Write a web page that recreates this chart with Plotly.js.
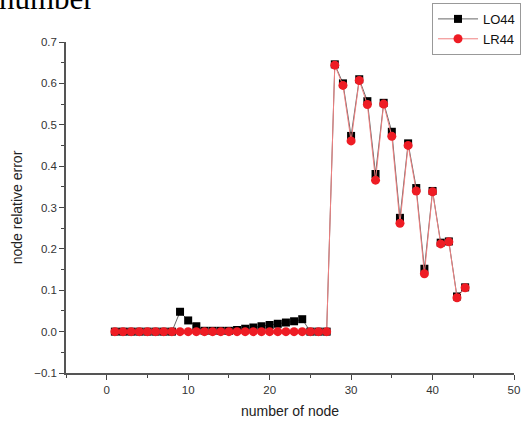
<!DOCTYPE html>
<html>
<head>
<meta charset="utf-8">
<script src="https://cdn.plot.ly/plotly-3.0.1.min.js"></script>
<style>html,body{margin:0;padding:0;background:#fff;}#chart{width:521px;height:429px;}</style>
</head>
<body>
<div id="chart"></div>
<script>
var nodes = [];
for (var i = 1; i <= 44; i++) nodes.push(i);

var lo44 = [0,0,0,0,0,0,0,0,0.048,0.027,0.013,0.002,0.002,0.002,0.002,0.004,0.007,0.010,0.013,0.016,0.019,0.022,0.025,0.030,0,0,0,
  0.646,0.600,0.473,0.610,0.557,0.381,0.553,0.483,0.275,0.455,0.347,0.152,0.340,0.215,0.218,0.085,0.107];
var lr44 = [0,0,0,0,0,0,0,0,0,0,0,0,0,0,0,0,0,0,0,0,0,0,0,0,0,0,0,
  0.644,0.595,0.461,0.607,0.549,0.366,0.550,0.472,0.262,0.450,0.340,0.140,0.338,0.212,0.217,0.082,0.106];

var seriesNames = ['LO44', 'LR44'];
var xTicks = [0, 10, 20, 30, 40, 50];
var titleFragment = 'number';
var xTitle = 'number of node';
var yTitle = 'node relative error';

var traces = [
  {x: nodes, y: lo44, name: seriesNames[0], mode: 'lines+markers', type: 'scatter',
   line: {color: '#666666', width: 1},
   marker: {symbol: 'square', size: 8, color: '#000000'}},
  {x: nodes, y: lr44, name: seriesNames[1], mode: 'lines+markers', type: 'scatter',
   line: {color: '#f08080', width: 1},
   marker: {symbol: 'circle', size: 9, color: '#ee1c24'}}
];

var axisFont = {family: 'Liberation Sans, Arial, sans-serif', size: 11.5, color: '#333'};
var titleFont = {family: 'Liberation Sans, Arial, sans-serif', size: 14, color: '#222'};
var layout = {
  width: 521, height: 429,
  margin: {l: 66, r: 7, t: 42, b: 56, autoexpand: false},
  paper_bgcolor: '#fff', plot_bgcolor: '#fff',
  showlegend: true,
  legend: {x: 0.817, y: 1.118, xanchor: 'left', yanchor: 'top',
    bordercolor: '#999', borderwidth: 1, bgcolor: '#fff',
    font: {family: 'Liberation Sans, Arial, sans-serif', size: 13, color: '#111'},
    tracegroupgap: 0, itemwidth: 40},
  xaxis: {range: [-5, 50], tickvals: xTicks, ticks: 'outside', ticklen: 5, tickwidth: 1,
    tickcolor: '#444', showline: true, linecolor: '#555', linewidth: 1.5, automargin: false,
    showgrid: false, zeroline: false, tickfont: axisFont,
    minor: {tickvals: [-5, 5, 15, 25, 35, 45], ticks: 'outside', ticklen: 3, tickcolor: '#444'},
    title: {text: xTitle, font: titleFont, standoff: 12}},
  yaxis: {range: [-0.1, 0.7], dtick: 0.1, tick0: 0, tickformat: '.1f', ticks: 'outside', ticklen: 5,
    tickwidth: 1, tickcolor: '#444', showline: true, linecolor: '#555', linewidth: 1.5, automargin: false,
    showgrid: false, zeroline: false, tickfont: axisFont,
    minor: {dtick: 0.05, ticks: 'outside', ticklen: 3, tickcolor: '#444'},
    title: {text: yTitle, font: titleFont, standoff: 8}},
  annotations: [{text: titleFragment, xref: 'paper', yref: 'paper', x: -0.155, y: 1.13,
    xanchor: 'left', yanchor: 'middle', showarrow: false,
    font: {family: 'Liberation Serif, Times New Roman, serif', size: 31, color: '#000'}}]
};

Plotly.newPlot('chart', traces, layout, {displayModeBar: false});
</script>
</body>
</html>
